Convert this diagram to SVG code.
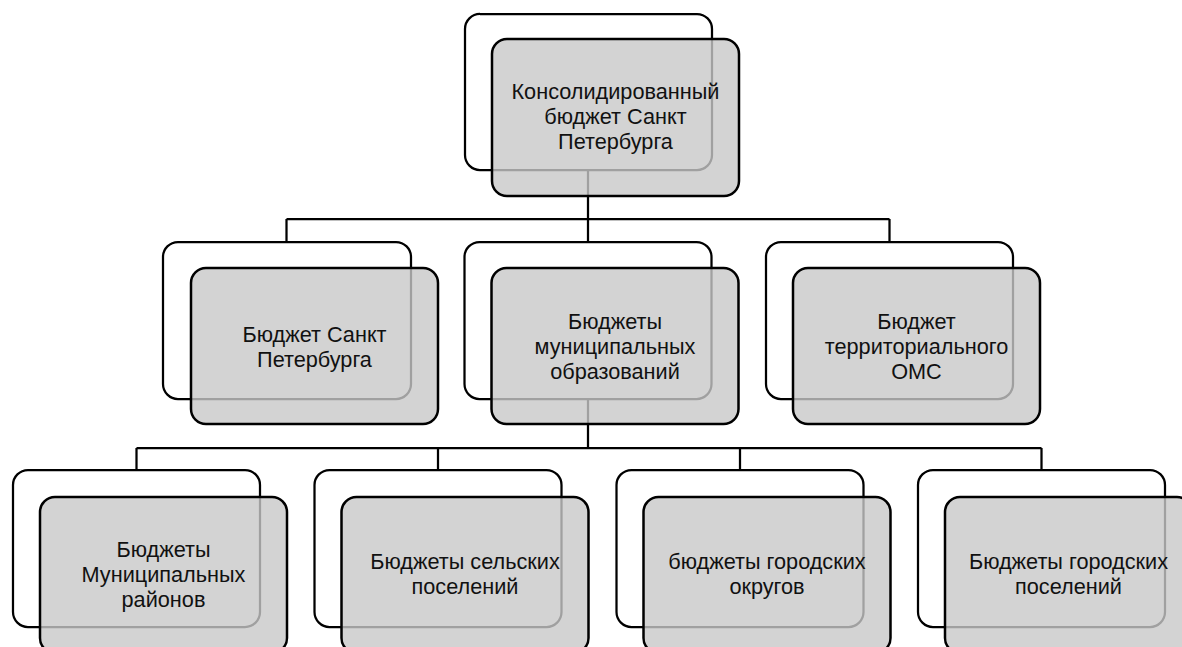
<svg xmlns="http://www.w3.org/2000/svg" width="1182" height="647" viewBox="0 0 1182 647">
<style>
.back{fill:#ffffff;stroke:#000000;stroke-width:2.25}
.front{fill:#c8c8c8;fill-opacity:0.8;stroke:#000000;stroke-width:2.5}
.conn{fill:none;stroke:#000000;stroke-width:2.25}
.lbl{font-family:"Liberation Sans",Arial,sans-serif;font-size:21.7px;fill:#111111;text-anchor:middle}
</style>
<rect width="1182" height="647" fill="#ffffff"/>
<g id="connectors">
<path class="conn" d="M588,170 V219 M286.5,219 H889.5 M286.5,219 V242 M588,219 V242 M889.5,219 V242"/>
<path class="conn" d="M588,399 V448 M136.5,448 H1041.5 M136.5,448 V470 M438,448 V470 M740,448 V470 M1041.5,448 V470"/>
</g>
<g id="node-top">
<rect class="back" x="465" y="14" width="247" height="156" rx="15"/>
<rect class="front" x="492" y="39" width="247" height="157" rx="15"/>
<text class="lbl"><tspan x="615.5" y="99">Консолидированный</tspan><tspan x="615.5" y="124">бюджет Санкт</tspan><tspan x="615.5" y="149">Петербурга</tspan></text>
</g>
<g id="node-spb">
<rect class="back" x="163" y="242" width="248" height="157" rx="15"/>
<rect class="front" x="191" y="268" width="247" height="156" rx="15"/>
<text class="lbl"><tspan x="314.5" y="342">Бюджет Санкт</tspan><tspan x="314.5" y="367">Петербурга</tspan></text>
</g>
<g id="node-mun">
<rect class="back" x="464.5" y="242" width="247" height="157" rx="15"/>
<rect class="front" x="491.5" y="268" width="247" height="156" rx="15"/>
<text class="lbl"><tspan x="615" y="328.5">Бюджеты</tspan><tspan x="615" y="353.5">муниципальных</tspan><tspan x="615" y="378.5">образований</tspan></text>
</g>
<g id="node-oms">
<rect class="back" x="766" y="242" width="247" height="157" rx="15"/>
<rect class="front" x="793" y="268" width="247" height="156" rx="15"/>
<text class="lbl"><tspan x="916.5" y="328.5">Бюджет</tspan><tspan x="916.5" y="353.5">территориального</tspan><tspan x="916.5" y="378.5">ОМС</tspan></text>
</g>
<g id="node-rayon">
<rect class="back" x="13" y="470" width="247" height="157" rx="15"/>
<rect class="front" x="40" y="497" width="247" height="156" rx="15"/>
<text class="lbl"><tspan x="163.5" y="557">Бюджеты</tspan><tspan x="163.5" y="582">Муниципальных</tspan><tspan x="163.5" y="607">районов</tspan></text>
</g>
<g id="node-selsk">
<rect class="back" x="314.5" y="470" width="247" height="157" rx="15"/>
<rect class="front" x="341.5" y="497" width="247" height="156" rx="15"/>
<text class="lbl"><tspan x="465" y="569">Бюджеты сельских</tspan><tspan x="465" y="594">поселений</tspan></text>
</g>
<g id="node-okrug">
<rect class="back" x="616.5" y="470" width="247" height="157" rx="15"/>
<rect class="front" x="643.5" y="497" width="247" height="156" rx="15"/>
<text class="lbl"><tspan x="767" y="569">бюджеты городских</tspan><tspan x="767" y="594">округов</tspan></text>
</g>
<g id="node-gorod">
<rect class="back" x="918" y="470" width="247" height="157" rx="15"/>
<rect class="front" x="945" y="497" width="247" height="156" rx="15"/>
<text class="lbl"><tspan x="1068.5" y="569">Бюджеты городских</tspan><tspan x="1068.5" y="594">поселений</tspan></text>
</g>
</svg>
